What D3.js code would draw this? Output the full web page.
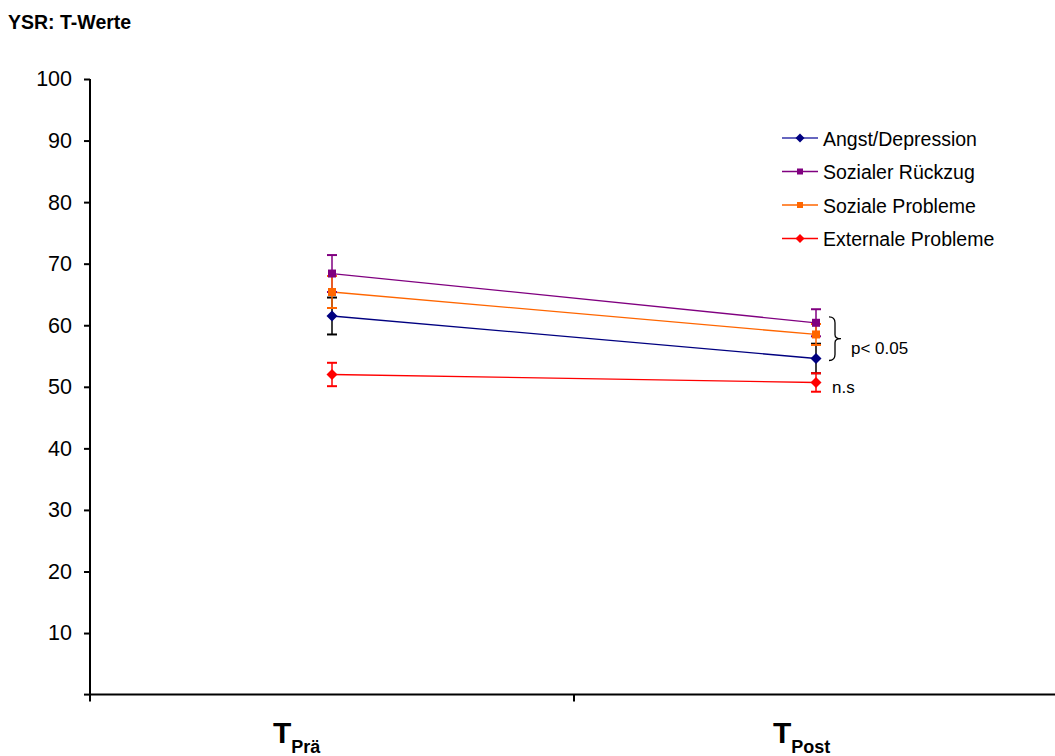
<!DOCTYPE html>
<html>
<head>
<meta charset="utf-8">
<script src="https://cdn.jsdelivr.net/npm/d3@7"></script>
<style>
  body { margin: 0; background: #fff; }
  svg { display: block; font-family: "Liberation Sans", Arial, sans-serif; }
</style>
</head>
<body>
<svg id="chart" width="1055" height="756"></svg>
<script>
// Messzeitpunkte
const timepoints = ["Prä", "Post"];
// Skalen des YSR
const seriesNames = ["Angst/Depression", "Sozialer Rückzug", "Soziale Probleme", "Externale Probleme"];
// Mittelwerte je Skala (Prä, Post)
const angstMeans = [61.5, 54.6];
const rueckzugMeans = [68.4, 60.4];
const sozialMeans = [65.4, 58.5];
const externalMeans = [52.0, 50.7];
// Fehlerbalken (halbe Länge) je Skala
const angstErr = [3.0, 2.4];
const rueckzugErr = [3.0, 2.2];
const sozialErr = [2.6, 1.7];
const externalErr = [1.9, 1.5];
// Y-Achsenbeschriftung
const yTicks = [10, 20, 30, 40, 50, 60, 70, 80, 90, 100];

const series = [
  { name: seriesNames[0], means: angstMeans, err: angstErr, line: "#000080", marker: "#000080", errColor: "#000000", shape: "diamond", legendLine: "#3333aa" },
  { name: seriesNames[1], means: rueckzugMeans, err: rueckzugErr, line: "#800080", marker: "#800080", errColor: "#800080", shape: "square", legendLine: "#800080" },
  { name: seriesNames[2], means: sozialMeans, err: sozialErr, line: "#ff6600", marker: "#ff6600", errColor: "#ff6600", shape: "square", legendLine: "#ff6600" },
  { name: seriesNames[3], means: externalMeans, err: externalErr, line: "#ff0000", marker: "#ff0000", errColor: "#ff0000", shape: "diamond", legendLine: "#ff0000" }
];

const svg = d3.select("#chart");
const plotLeft = 90, plotRight = 1058, plotTop = 79, plotBottom = 694.6;

const x = d3.scaleBand().domain(timepoints).range([plotLeft, plotRight]);
const y = d3.scaleLinear().domain([0, 100]).range([plotBottom, plotTop]);
const cx = t => x(t) + x.bandwidth() / 2;

svg.append("text")
  .attr("x", 8).attr("y", 29)
  .attr("font-size", 19.5).attr("font-weight", "bold")
  .text("YSR: T-Werte");

// Y-Achse
const yAxis = svg.append("g")
  .attr("transform", `translate(${plotLeft},0)`)
  .call(d3.axisLeft(y).tickValues(yTicks).tickSize(6).tickPadding(12).tickFormat(d3.format("d")));
yAxis.select(".domain").attr("stroke", "#000").attr("stroke-width", 2).attr("d", `M0,${plotTop}V${plotBottom}`);
yAxis.selectAll(".tick line").attr("stroke", "#000").attr("stroke-width", 2);
yAxis.selectAll(".tick text").attr("font-size", 21.5).attr("fill", "#000")
  .attr("font-family", "'Liberation Sans', Arial, sans-serif");
// Tick bei 0
svg.append("line").attr("x1", plotLeft - 6).attr("x2", plotLeft).attr("y1", y(0)).attr("y2", y(0))
  .attr("stroke", "#000").attr("stroke-width", 2);

// X-Achse
svg.append("line").attr("x1", plotLeft).attr("x2", plotRight).attr("y1", y(0)).attr("y2", y(0))
  .attr("stroke", "#000").attr("stroke-width", 2);
const xTickPos = [plotLeft, x(timepoints[1])];
svg.selectAll(".xtick").data(xTickPos).join("line")
  .attr("x1", d => d).attr("x2", d => d)
  .attr("y1", y(0)).attr("y2", y(0) + 7)
  .attr("stroke", "#000").attr("stroke-width", 2);

// Kategorienbeschriftung mit tiefgestelltem Index
const labelShift = { "Prä": -59, "Post": -43 };
const xl = svg.selectAll(".xlab").data(timepoints).join("text")
  .attr("x", d => cx(d) + labelShift[d]).attr("y", 743)
  .attr("font-weight", "bold").attr("text-anchor", "start");
xl.append("tspan").attr("font-size", 30).text("T");
xl.append("tspan").attr("font-size", 18).attr("dy", 10).text(d => d);

// Linien
const line = d3.line().x((d, i) => cx(timepoints[i])).y(d => y(d));
series.forEach(s => {
  svg.append("path").attr("d", line(s.means)).attr("fill", "none")
    .attr("stroke", s.line).attr("stroke-width", 1.3);
});

// Fehlerbalken
series.forEach(s => {
  s.means.forEach((m, i) => {
    const px = cx(timepoints[i]);
    const g = svg.append("g").attr("stroke", s.errColor).attr("stroke-width", 1.5);
    g.append("line").attr("x1", px).attr("x2", px).attr("y1", y(m - s.err[i])).attr("y2", y(m + s.err[i]));
    [m - s.err[i], m + s.err[i]].forEach(v => {
      g.append("line").attr("x1", px - 5).attr("x2", px + 5).attr("y1", y(v)).attr("y2", y(v)).attr("stroke-width", 2);
    });
  });
});

// Marker
function drawMarker(g, shape, px, py, color, size) {
  if (shape === "square") {
    g.append("rect").attr("x", px - size).attr("y", py - size)
      .attr("width", size * 2).attr("height", size * 2).attr("fill", color);
  } else {
    const r = size + 1.5;
    g.append("path").attr("d", `M${px},${py - r}L${px + r},${py}L${px},${py + r}L${px - r},${py}Z`).attr("fill", color);
  }
}
series.forEach(s => {
  s.means.forEach((m, i) => drawMarker(svg, s.shape, cx(timepoints[i]), y(m), s.marker, 4));
});

// Signifikanzklammer
const bx = 829;
const y1 = y(rueckzugMeans[1]) - 6, y2 = y(angstMeans[1]) + 2, ym = (y1 + y2) / 2;
svg.append("path")
  .attr("d", `M${bx},${y1} Q${bx + 6},${y1} ${bx + 6},${y1 + 6} L${bx + 6},${ym - 4} Q${bx + 6},${ym} ${bx + 12},${ym} Q${bx + 6},${ym} ${bx + 6},${ym + 4} L${bx + 6},${y2 - 6} Q${bx + 6},${y2} ${bx},${y2}`)
  .attr("fill", "none").attr("stroke", "#000").attr("stroke-width", 1.3);
svg.append("text").attr("x", 851).attr("y", 354).attr("font-size", 17).text("p< 0.05");
svg.append("text").attr("x", 832).attr("y", 393).attr("font-size", 17).text("n.s");

// Legende
const legend = svg.append("g");
series.forEach((s, i) => {
  const ly = 138 + i * 33.5;
  legend.append("line").attr("x1", 782).attr("x2", 818).attr("y1", ly).attr("y2", ly)
    .attr("stroke", s.legendLine).attr("stroke-width", 1.3);
  drawMarker(legend, s.shape, 800, ly, s.marker, 3);
  legend.append("text").attr("x", 823).attr("y", ly + 7.5).attr("font-size", 19.5).text(s.name);
});
</script>
</body>
</html>
